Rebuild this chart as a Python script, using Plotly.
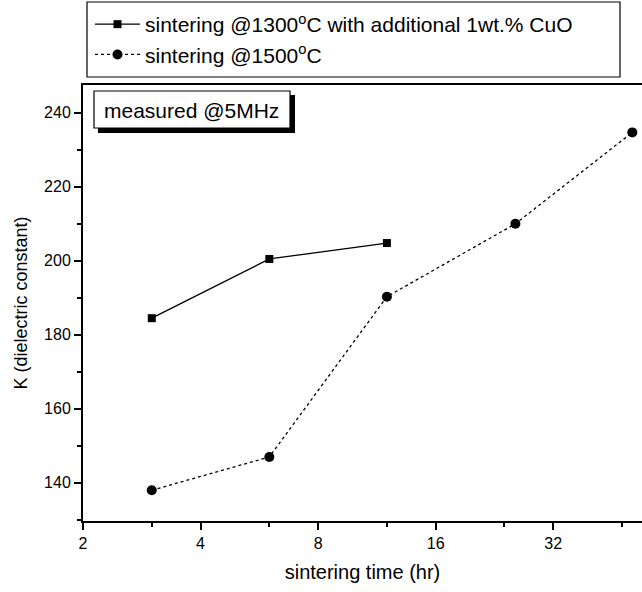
import numpy as np
import plotly.graph_objects as go

# Data
time_cuo = [3, 6, 12]
k_cuo = [184.5, 200.5, 204.8]
time_1500 = [3, 6, 12, 25.6, 51]
k_1500 = [138.0, 147.0, 190.3, 210.0, 234.7]

x_ticks = [2, 4, 8, 16, 32]
x_minor = [3, 6, 12, 24, 48]
y_ticks = [140, 160, 180, 200, 220, 240]
y_minor = [130, 150, 170, 190, 210, 230]

FONT = "Liberation Sans, Arial, sans-serif"

# pixel geometry helpers
W, H = 642, 592
L, R, T, B = 83, 0, 85, 71
PW, PH = W - L - R, H - T - B


def px(xp):
    return (xp - L) / PW


def py(yp):
    return (H - B - yp) / PH


fig = go.Figure()
fig.add_trace(go.Scatter(
    x=time_cuo, y=k_cuo, mode="lines+markers",
    name="sintering @1300<sup>o</sup>C with additional 1wt.% CuO",
    line=dict(color="black", width=1.3),
    marker=dict(symbol="square", size=8, color="black"),
))
fig.add_trace(go.Scatter(
    x=time_1500, y=k_1500, mode="lines+markers",
    name="sintering @1500<sup>o</sup>C",
    line=dict(color="black", width=1.3, dash="dot"),
    marker=dict(symbol="circle", size=10, color="black"),
))

fig.update_layout(
    width=W, height=H,
    margin=dict(l=L, r=R, t=T, b=B),
    paper_bgcolor="white", plot_bgcolor="white",
    font=dict(family=FONT, color="black", size=16),
    showlegend=True,
    legend=dict(
        x=px(90), y=py(4), xanchor="left", yanchor="top",
        borderwidth=0, bgcolor="rgba(0,0,0,0)",
        font=dict(size=21, family=FONT),
        itemwidth=45,
        tracegroupgap=0,
    ),
    xaxis=dict(
        type="log", range=[np.log10(2), np.log10(54)],
        tickvals=x_ticks, ticktext=[str(v) for v in x_ticks],
        ticks="outside", ticklen=7, tickwidth=1.5, tickcolor="black",
        showline=True, linecolor="black", linewidth=2, mirror=True,
        showgrid=False, zeroline=False,
        tickfont=dict(size=16),
        title=dict(text="sintering time (hr)", font=dict(size=20), standoff=14),
        minor=dict(tickvals=x_minor, ticks="outside", ticklen=4, tickcolor="black", showgrid=False),
    ),
    yaxis=dict(
        range=[129.7, 247.5],
        tickvals=y_ticks,
        ticks="outside", ticklen=7, tickwidth=1.5, tickcolor="black",
        showline=True, linecolor="black", linewidth=2,
        showgrid=False, zeroline=False,
        tickfont=dict(size=16),
        title=dict(text="K (dielectric constant)", font=dict(size=18), standoff=12),
        minor=dict(tickvals=y_minor, ticks="outside", ticklen=4, tickcolor="black", showgrid=False),
    ),
)

# legend frame
fig.add_shape(type="rect", xref="paper", yref="paper",
              x0=px(87), x1=px(620), y0=py(77), y1=py(2),
              fillcolor="rgba(0,0,0,0)", line=dict(color="black", width=1.2), layer="above")

# "measured @5MHz" box with shadow
fig.add_shape(type="rect", xref="paper", yref="paper",
              x0=px(98), x1=px(295), y0=py(133), y1=py(95),
              fillcolor="black", line=dict(width=0), layer="above")
fig.add_shape(type="rect", xref="paper", yref="paper",
              x0=px(94), x1=px(290), y0=py(128), y1=py(91),
              fillcolor="white", line=dict(color="black", width=1.2), layer="above")
fig.add_annotation(xref="paper", yref="paper", x=px(191), y=py(110),
                   text="measured @5MHz", showarrow=False,
                   font=dict(size=21, family=FONT, color="black"),
                   xanchor="center", yanchor="middle")

fig.write_html("out.html")
